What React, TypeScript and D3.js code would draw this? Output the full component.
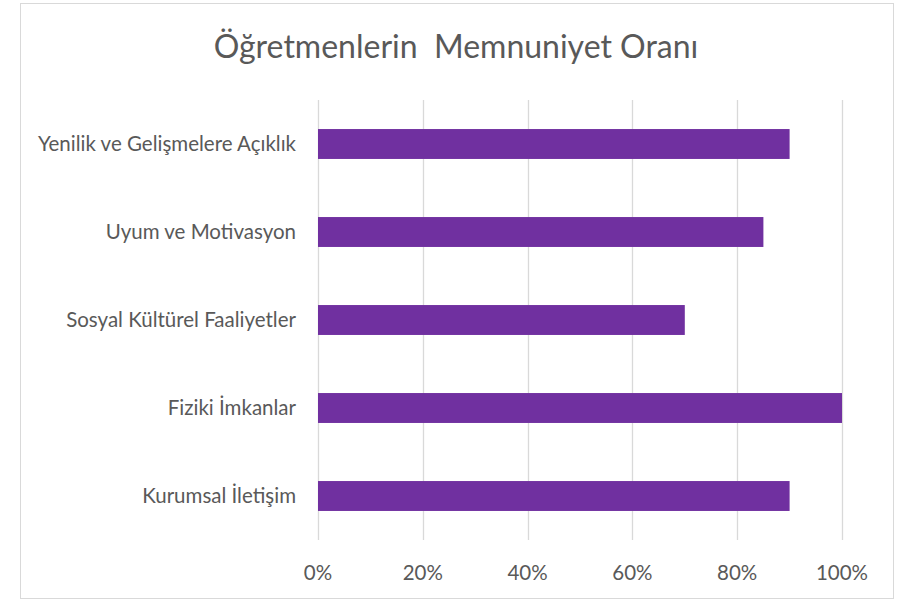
import React, { useEffect, useRef } from 'react';
import * as d3 from 'd3';

// chart data
const categories = [
  'Yenilik ve Gelişmelere Açıklık',
  'Uyum ve Motivasyon',
  'Sosyal Kültürel Faaliyetler',
  'Fiziki İmkanlar',
  'Kurumsal İletişim',
];
const values = [0.9, 0.85, 0.7, 1.0, 0.9];
const tickValues = [0, 0.2, 0.4, 0.6, 0.8, 1.0];
const title = 'Öğretmenlerin  Memnuniyet Oranı';

const W = 910;
const H = 601;
const FONT = 'Lato, "Open Sans", sans-serif';

const App = () => {
  const svgRef = useRef<SVGSVGElement | null>(null);

  useEffect(() => {
    const svg = d3.select(svgRef.current);
    svg.selectAll('*').remove();

    // chart frame
    svg.append('rect')
      .attr('x', 20.5).attr('y', 3.5)
      .attr('width', 873).attr('height', 595)
      .attr('fill', '#fff')
      .attr('stroke', '#d9d9d9')
      .attr('stroke-width', 1);

    svg.append('text')
      .attr('x', 456).attr('y', 58)
      .attr('text-anchor', 'middle')
      .style('font-family', FONT)
      .style('font-size', '32px')
      .style('fill', '#595959')
      .style('white-space', 'pre')
      .text(title);

    const x = d3.scaleLinear().domain([0, 1]).range([318, 842]);
    const y = d3.scaleBand<string>()
      .domain(categories)
      .range([100, 540])
      .paddingInner(0.66)
      .paddingOuter(0.33);

    // vertical gridlines
    svg.append('g')
      .selectAll('line')
      .data(tickValues)
      .enter()
      .append('line')
      .attr('x1', d => Math.round(x(d)) + 0.5)
      .attr('x2', d => Math.round(x(d)) + 0.5)
      .attr('y1', 100)
      .attr('y2', 540)
      .attr('stroke', '#d9d9d9')
      .attr('stroke-width', 1.3);

    // bars
    svg.append('g')
      .selectAll('rect')
      .data(categories)
      .enter()
      .append('rect')
      .attr('x', x(0))
      .attr('y', d => y(d)!)
      .attr('width', (d, i) => x(values[i]) - x(0))
      .attr('height', y.bandwidth())
      .attr('fill', '#7030a0');

    // category labels
    svg.append('g')
      .selectAll('text')
      .data(categories)
      .enter()
      .append('text')
      .attr('x', 296)
      .attr('y', d => y(d)! + y.bandwidth() / 2)
      .attr('dy', '0.35em')
      .attr('text-anchor', 'end')
      .style('font-family', FONT)
      .style('font-size', '20.5px')
      .style('fill', '#595959')
      .text(d => d);

    // x tick labels
    const fmt = d3.format('.0%');
    svg.append('g')
      .selectAll('text')
      .data(tickValues)
      .enter()
      .append('text')
      .attr('x', d => x(d))
      .attr('y', 573)
      .attr('dy', '0.35em')
      .attr('text-anchor', 'middle')
      .style('font-family', FONT)
      .style('font-size', '20.5px')
      .style('fill', '#595959')
      .text(d => fmt(d));
  }, []);

  return (
    <svg
      ref={svgRef}
      width={W}
      height={H}
      style={{ position: 'absolute', left: 0, top: 0, display: 'block', background: '#fff' }}
    />
  );
};

export default App;
